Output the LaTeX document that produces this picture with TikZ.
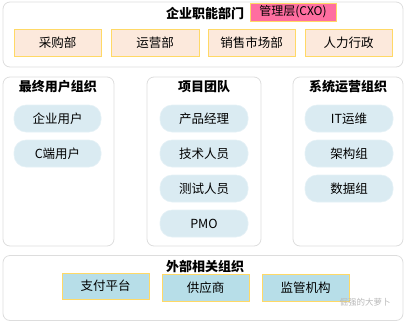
\documentclass[tikz,border=0pt]{standalone}
\usepackage{fontspec}
\setmainfont{Noto Sans CJK SC}
\definecolor{peach}{HTML}{FCE9DC}
\definecolor{goldline}{HTML}{FFD966}
\definecolor{pillblue}{HTML}{DAEBF2}
\definecolor{extblue}{HTML}{B7DEE8}
\definecolor{cxopink}{HTML}{FF6EA0}
\definecolor{boxgray}{HTML}{DDDDDD}
\begin{document}
\begin{tikzpicture}[x=1pt,y=-1pt,
  container/.style={draw=boxgray, line width=0.8pt, rounded corners=7pt, inner sep=0pt},
  title/.style={font=\bfseries\fontsize{13}{15}\selectfont, inner sep=0pt},
  funcbox/.style={fill=peach, draw=goldline, line width=1pt, minimum width=87pt, minimum height=27pt, inner sep=0pt, font=\fontsize{12.5}{14}\selectfont},
  pill/.style={fill=pillblue, draw=pillblue!70!white, line width=0.6pt, rounded corners=12pt, minimum width=87pt, minimum height=27pt, inner sep=0pt, font=\fontsize{12.5}{14}\selectfont},
  extbox/.style={fill=extblue, draw=goldline, line width=1pt, minimum width=87pt, minimum height=26pt, inner sep=0pt, font=\fontsize{12.5}{14}\selectfont},
]
\useasboundingbox (0,0) rectangle (407,322);
% top
\node[container, minimum width=400pt, minimum height=65pt] (top) at (203,34.5) {};
\node[title] (toptitle) at (205,13) {企业职能部门};
\node[fill=cxopink, draw=goldline, line width=1pt, minimum width=86pt, minimum height=18pt, inner sep=0pt, font=\fontsize{12}{13}\selectfont] (cxo) at (293,12) {管理层(CXO)};
\node[funcbox] (f1) at (57.5,42.5) {采购部};
\node[funcbox, minimum width=88pt] (f2) at (155,42.5) {运营部};
\node[funcbox] (f3) at (251.5,42.5) {销售市场部};
\node[funcbox] (f4) at (348.5,42.5) {人力行政};
% middle
\node[container, minimum width=111pt, minimum height=169pt] (cl) at (58.5,161.5) {};
\node[container, minimum width=114pt, minimum height=169pt] (cm) at (204,161.5) {};
\node[container, minimum width=110pt, minimum height=169pt] (cr) at (348,161.5) {};
\node[title] (tl) at (58,87) {最终用户组织};
\node[title] (tm) at (204,87) {项目团队};
\node[title] (tr) at (348,87) {系统运营组织};
\node[pill] (l1) at (57.5,118.5) {企业用户};
\node[pill] (l2) at (57.5,153.5) {C端用户};
\node[pill, minimum width=88pt] (m1) at (204,118.5) {产品经理};
\node[pill, minimum width=88pt] (m2) at (204,153.5) {技术人员};
\node[pill, minimum width=88pt] (m3) at (204,188.5) {测试人员};
\node[pill, minimum width=88pt] (m4) at (204,223.5) {PMO};
\node[pill, minimum width=88pt] (r1) at (349,118.5) {IT运维};
\node[pill, minimum width=88pt] (r2) at (349,153.5) {架构组};
\node[pill, minimum width=88pt] (r3) at (349,188.5) {数据组};
% bottom
\node[container, minimum width=400pt, minimum height=65pt] (bot) at (203,288) {};
\node[title] (bt) at (205,266) {外部相关组织};
\node[extbox] (e1) at (105.5,286) {支付平台};
\node[extbox, minimum height=27pt] (e2) at (205.5,287.5) {供应商};
\node[extbox, minimum height=27pt] (e3) at (305.5,288) {监管机构};
\node[text=gray!55, font=\fontsize{8.5}{9}\selectfont, inner sep=0pt] (wm) at (365,302) {倔强的大萝卜};
\end{tikzpicture}
\end{document}
